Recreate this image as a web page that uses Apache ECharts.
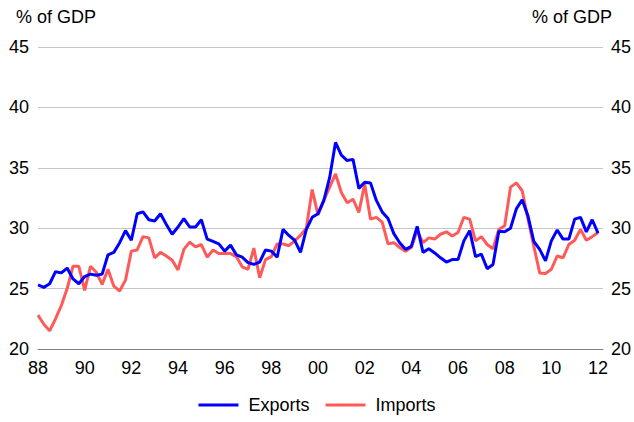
<!DOCTYPE html>
<html>
<head>
<meta charset="utf-8">
<script src="https://cdn.jsdelivr.net/npm/echarts@6/dist/echarts.min.js"></script>
<style>
  html, body { margin: 0; padding: 0; background: #fff; }
  #chart { width: 634px; height: 422px; }
</style>
</head>
<body>
<div id="chart"></div>
<script>
// quarterly, 1988Q1 .. 2012Q1
var tickLabels = ["88", "90", "92", "94", "96", "98", "00", "02", "04", "06", "08", "10", "12"];
var yTicks = [20, 25, 30, 35, 40, 45];

var exports = [
  25.3, 25.1, 25.4, 26.4, 26.3, 26.7, 25.8, 25.4, 26.0, 26.2, 26.1, 26.2,
  27.8, 28.0, 28.8, 29.8, 29.0, 31.2, 31.35, 30.7, 30.6, 31.2, 30.3, 29.5,
  30.1, 30.8, 30.1, 30.1, 30.7, 29.1, 28.9, 28.7, 28.1, 28.6, 27.8, 27.6,
  27.15, 27.0, 27.2, 28.2, 28.1, 27.6, 29.9, 29.4, 29.0, 28.0, 29.9, 30.9,
  31.2, 32.3, 34.2, 37.1, 36.05, 35.6, 35.7, 33.3, 33.8, 33.75, 32.3, 31.35,
  30.8, 29.55, 28.8, 28.25, 28.5, 30.15, 28.0, 28.3, 27.95, 27.55, 27.2, 27.4,
  27.4, 28.95, 29.8, 27.65, 27.85, 26.65, 27.0, 29.75, 29.7, 30.0, 31.6, 32.35,
  31.0, 28.9, 28.25, 27.3, 28.95, 29.85, 29.1, 29.1, 30.75, 30.9, 29.7, 30.7,
  29.6
];
var imports = [
  22.8, 22.05, 21.5, 22.5, 23.6, 25.0, 26.85, 26.85, 24.85, 26.85, 26.35, 25.35,
  26.6, 25.2, 24.8, 25.7, 28.1, 28.2, 29.3, 29.2, 27.55, 28.0, 27.7, 27.35,
  26.55, 28.25, 28.85, 28.45, 28.65, 27.6, 28.2, 27.9, 27.9, 27.9, 27.65, 26.8,
  26.6, 28.35, 25.9, 27.4, 27.65, 28.7, 28.7, 28.55, 28.95, 29.4, 30.0, 33.2,
  31.1, 32.3, 33.4, 34.5, 32.95, 32.1, 32.4, 31.3, 33.65, 30.75, 30.9, 30.5,
  28.7, 28.8, 28.4, 28.1, 28.4, 29.8, 28.8, 29.2, 29.1, 29.5, 29.7, 29.35,
  29.65, 30.9, 30.75, 28.95, 29.3, 28.65, 28.3, 29.9, 30.2, 33.4, 33.75, 33.1,
  30.75, 28.5, 26.3, 26.25, 26.6, 27.7, 27.55, 28.65, 29.0, 29.9, 29.0, 29.3,
  29.65
];

function toPairs(arr) {
  return arr.map(function(v, i) { return [i, v]; });
}

var font = "Arial, 'Liberation Sans', sans-serif";
var myChart = echarts.init(document.getElementById("chart"), null, { renderer: "svg" });

var yAxisBase = {
  type: "value",
  min: yTicks[0],
  max: yTicks[yTicks.length - 1],
  interval: 5,
  axisLine: { show: false },
  axisTick: { show: false },
  splitLine: { lineStyle: { color: "#c6c6c6", width: 1 } },
  axisLabel: { color: "#000", fontSize: 18, fontFamily: font }
};

var option = {
  animation: false,
  backgroundColor: "#fff",
  grid: { left: 38, right: 29, top: 47, bottom: 73 },
  graphic: [
    { type: "text", left: 16, top: 8, style: { text: "% of GDP", fontSize: 18, fontFamily: font, fill: "#000" } },
    { type: "text", right: 22, top: 8, style: { text: "% of GDP", fontSize: 18, fontFamily: font, fill: "#000" } }
  ],
  legend: {
    top: 396,
    left: "center",
    padding: 0,
    icon: "rect",
    itemWidth: 40,
    itemHeight: 3,
    itemGap: 16,
    textStyle: { color: "#000", fontSize: 18, fontFamily: font, padding: [0, 0, 0, 5] },
    data: ["Exports", "Imports"]
  },
  xAxis: {
    type: "value",
    min: 0,
    max: 96.85,
    interval: 8,
    axisLine: { show: true, lineStyle: { color: "#808080", width: 1 } },
    axisTick: { show: false },
    splitLine: { show: false },
    axisLabel: {
      color: "#000",
      fontSize: 18,
      fontFamily: font,
      margin: 10,
      showMaxLabel: false,
      formatter: function(v) {
        return v % 8 === 0 ? tickLabels[v / 8] : "";
      }
    }
  },
  yAxis: [
    Object.assign({}, yAxisBase, { position: "left", axisLabel: Object.assign({}, yAxisBase.axisLabel, { margin: 9 }) }),
    Object.assign({}, yAxisBase, { position: "right", axisLabel: Object.assign({}, yAxisBase.axisLabel, { margin: 8 }) })
  ],
  series: [
    {
      name: "Exports",
      type: "line",
      data: toPairs(exports),
      showSymbol: false,
      lineStyle: { color: "#0000ff", width: 3 },
      itemStyle: { color: "#0000ff" },
      z: 3
    },
    {
      name: "Imports",
      type: "line",
      data: toPairs(imports),
      showSymbol: false,
      lineStyle: { color: "#ff5a5a", width: 3 },
      itemStyle: { color: "#ff5a5a" },
      z: 2
    }
  ]
};

myChart.setOption(option);
</script>
</body>
</html>
